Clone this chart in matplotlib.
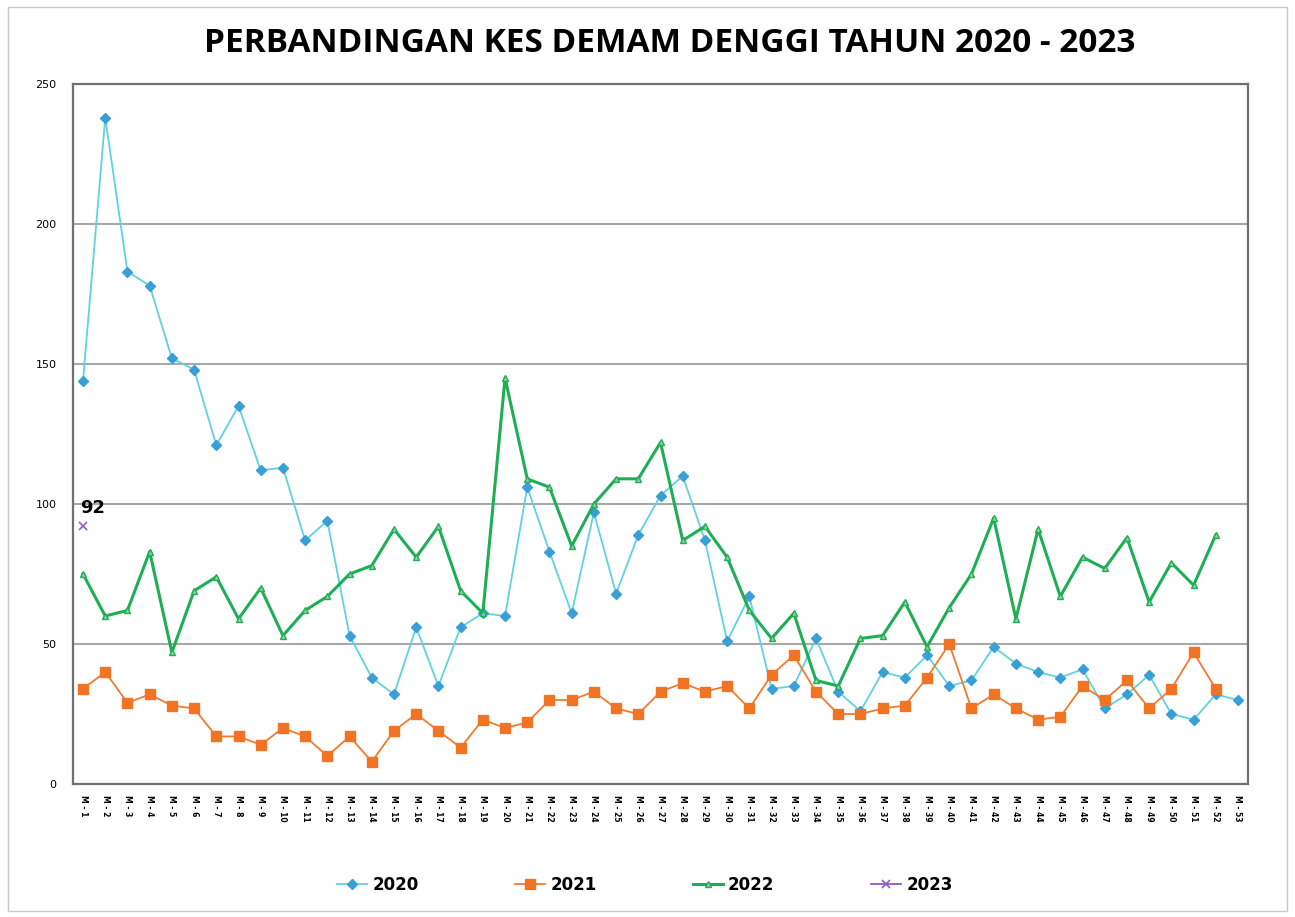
import numpy as np
import matplotlib.pyplot as plt
from matplotlib.patches import Rectangle

weeks = ["M - %d" % i for i in range(1, 54)]

y2020 = [144, 238, 183, 178, 152, 148, 121, 135, 112, 113, 87, 94, 53, 38, 32, 56, 35, 56,
         61, 60, 106, 83, 61, 97, 68, 89, 103, 110, 87, 51, 67, 34, 35, 52, 33, 26, 40, 38,
         46, 35, 37, 49, 43, 40, 38, 41, 27, 32, 39, 25, 23, 32, 30]
y2021 = [34, 40, 29, 32, 28, 27, 17, 17, 14, 20, 17, 10, 17, 8, 19, 25, 19, 13, 23, 20, 22,
         30, 30, 33, 27, 25, 33, 36, 33, 35, 27, 39, 46, 33, 25, 25, 27, 28, 38, 50, 27, 32,
         27, 23, 24, 35, 30, 37, 27, 34, 47, 34]
y2022 = [75, 60, 62, 83, 47, 69, 74, 59, 70, 53, 62, 67, 75, 78, 91, 81, 92, 69, 61, 145,
         109, 106, 85, 100, 109, 109, 122, 87, 92, 81, 62, 52, 61, 37, 35, 52, 53, 65, 49, 63,
         75, 95, 59, 91, 67, 81, 77, 88, 65, 79, 71, 89]
y2023 = [92]

x = np.arange(1, 54)

fig = plt.figure(figsize=(12.95, 9.17), dpi=100)
ax = fig.add_axes([0.0564, 0.145, 0.9073, 0.7634])

ax.plot(x[:len(y2020)], y2020, color="#5fd3dc", lw=1.3, marker="D", ms=5,
        mfc="#3a9fd6", mec="#3a9fd6", label="2020")
ax.plot(x[:len(y2021)], y2021, color="#f27a2e", lw=1.3, marker="s", ms=7,
        mfc="#f07424", mec="#f07424", label="2021")
ax.plot(x[:len(y2022)], y2022, color="#1fae55", lw=2.2, marker="^", ms=5,
        mfc="#8fd0a0", mec="#1fae55", label="2022")
ax.plot(x[:len(y2023)], y2023, color="#8a5cc0", lw=1.3, marker="x", ms=6,
        mew=1.2, label="2023")
ax.annotate("92", (x[0], y2023[0]), xytext=(-2, 7), textcoords="offset points",
            fontsize=13, fontweight="bold", ha="left", va="bottom")

ax.set_xlim(0.55, 53.45)
ax.set_ylim(0, 250)
ax.set_yticks([0, 50, 100, 150, 200, 250])
ax.set_xticks(x)
ax.set_xticklabels(weeks, rotation=270, fontsize=5.5, fontweight="bold")
ax.tick_params(axis="y", labelsize=8, length=0, pad=12)
ax.tick_params(axis="x", length=0, pad=8)
ax.yaxis.grid(True, color="#a8a8a8", lw=1.5)
ax.set_axisbelow(True)
for s in ax.spines.values():
    s.set_color("#707070")
    s.set_linewidth(1.6)

fig.text(0.517, 0.953, "PERBANDINGAN KES DEMAM DENGGI TAHUN 2020 - 2023",
         ha="center", va="center", fontsize=24, fontweight="bold", family="Open Sans")

leg = fig.legend(loc="center", bbox_to_anchor=(0.498, 0.035), ncol=4, frameon=False,
                 prop={"weight": "bold", "size": 12}, columnspacing=5.8,
                 handlelength=1.8, handletextpad=0.3)

fig.patches.append(Rectangle((0.006, 0.006), 0.988, 0.986, transform=fig.transFigure,
                             fill=False, ec="#c8c8c8", lw=1))

plt.savefig("out.png", dpi=100)
